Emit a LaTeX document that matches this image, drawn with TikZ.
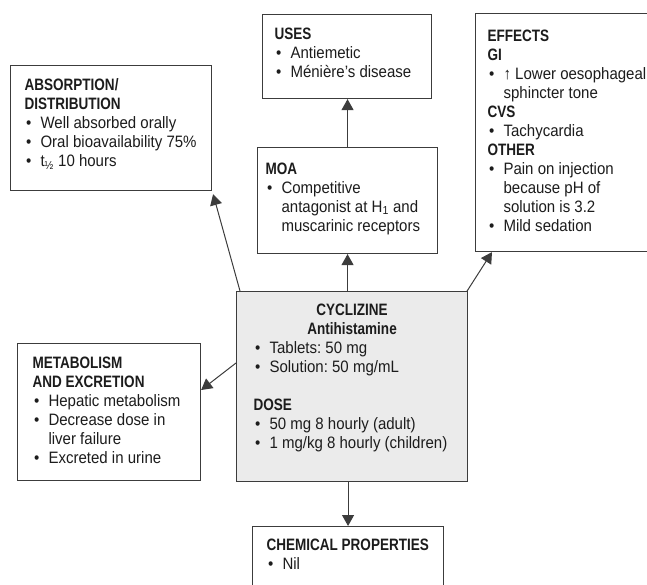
\documentclass[tikz,border=0pt]{standalone}
\usepackage{fontspec}
\setmainfont{Liberation Sans}[FakeStretch=0.91]
\newfontface\headfont{Liberation Sans Bold}[FakeStretch=0.82]
\usetikzlibrary{arrows.meta}

\definecolor{inkgray}{HTML}{1C1C1C}
\definecolor{boxline}{HTML}{3C3C3C}
\definecolor{drugfill}{HTML}{EBEBEB}

% heading, bullet item and fixed-size text block
\newcommand{\hd}[1]{\par{\headfont #1}}
\newcommand{\itm}[1]{\par\hangindent=16pt\hangafter=1\makebox[16pt][l]{\hspace{1.5pt}\textbullet}#1}
\newcommand{\card}[3]{\parbox[t][#2][t]{#1}{\frenchspacing\parindent=0pt #3}}

\begin{document}
\begin{tikzpicture}[
  x=1pt, y=1pt,
  panel/.style 2 args={draw=boxline, line width=1.1pt, fill=white, anchor=north west,
    inner xsep=#1, inner ysep=#2, text=inkgray, font=\fontsize{16.5}{19}\selectfont},
  seta/.style={draw=boxline, line width=1pt, -{Triangle[length=11pt, width=12pt]}}
]
\useasboundingbox (0,0) rectangle (647,-584);
\clip (0,0) rectangle (647,-584);

\node[panel={14pt}{13pt}] (absorp) at (10,-65) {\card{173pt}{99pt}{\hd{ABSORPTION/\\DISTRIBUTION}\itm{Well absorbed orally}\itm{Oral bioavailability 75\%}\itm{t\textsubscript{½} 10 hours}}};
\node[panel={12pt}{13pt}] (uses) at (262,-14) {\card{145pt}{58pt}{\hd{USES}\itm{Antiemetic}\itm{Ménière’s disease}}};
\node[panel={12pt}{16pt}] (effects) at (475,-13) {\card{280pt}{206pt}{\hd{EFFECTS\\GI}\itm{↑ Lower oesophageal\\sphincter tone}\hd{CVS}\itm{Tachycardia}\hd{OTHER}\itm{Pain on injection\\because pH of\\solution is 3.2}\itm{Mild sedation}}};
\node[panel={8pt}{15pt}] (moa) at (257,-147) {\card{164pt}{76pt}{\hd{MOA}\itm{Competitive\\antagonist at H\textsubscript{1} and\\muscarinic receptors}}};
\node[panel={17pt}{12pt}, fill=drugfill] (drug) at (236,-291) {\card{197pt}{166pt}{{\centering\headfont CYCLIZINE\\Antihistamine\par}\itm{Tablets: 50 mg}\itm{Solution: 50 mg/mL}\par\vspace{\baselineskip}\hd{DOSE}\itm{50 mg 8 hourly (adult)}\itm{1 mg/kg 8 hourly (children)}}};
\node[panel={15pt}{13pt}] (metab) at (17,-343) {\card{153pt}{111pt}{\hd{METABOLISM\\AND EXCRETION}\itm{Hepatic metabolism}\itm{Decrease dose in\\liver failure}\itm{Excreted in urine}}};
\node[panel={14pt}{12pt}] (chem) at (252,-526) {\card{163pt}{50pt}{\hd{CHEMICAL PROPERTIES}\itm{Nil}}};

\draw[seta] (drug.north -| moa.south) -- (moa.south);
\draw[seta] (moa.north) -- (moa.north |- uses.south);
\draw[seta] (drug.south -| chem.north) -- (chem.north);
\draw[seta] ([xshift=4pt]drug.north west) -- ([shift={(1pt,-3pt)}]absorp.south east);
\draw[seta] ([xshift=-1pt]drug.north east) -- ([xshift=17pt]effects.south west);
\draw[seta] ([yshift=-72pt]drug.north west) -- ([yshift=-47pt]metab.north east);
\end{tikzpicture}
\end{document}
